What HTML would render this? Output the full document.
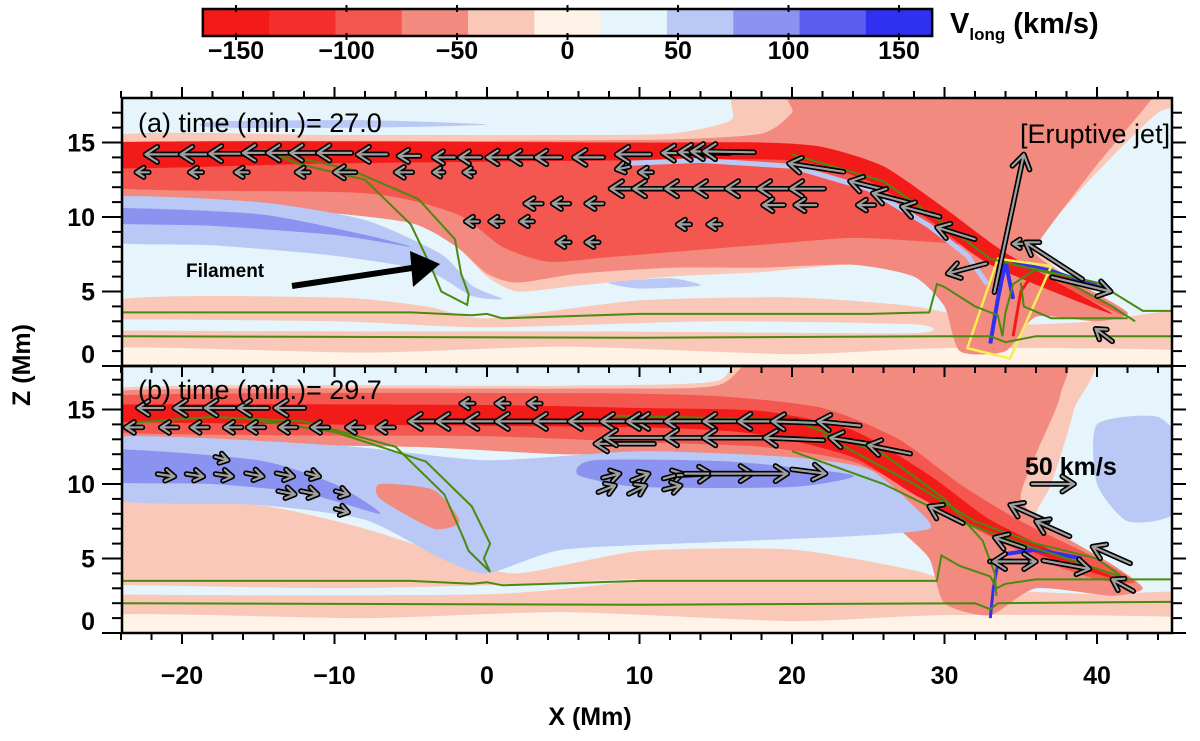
<!DOCTYPE html>
<html><head><meta charset="utf-8"><style>
body{margin:0;background:#fff;}
svg{display:block;font-family:"Liberation Sans",sans-serif;}
</style></head><body>
<svg id="fig" width="1200" height="741" viewBox="0 0 1200 741" xmlns="http://www.w3.org/2000/svg">
<defs>
<clipPath id="clipA"><rect x="122" y="98" width="1050" height="268"/></clipPath>
<clipPath id="clipB"><rect x="122" y="366" width="1050" height="267"/></clipPath>
</defs>
<g id="fieldA" clip-path="url(#clipA)"></g>
<g id="fieldB" clip-path="url(#clipB)"></g>
<g id="overlay"></g>
</svg>
<script>
// ---- data arrays ----
const cbLevels=[-165,-135,-105,-75,-45,-15,15,45,75,105,135,165];
const cbColors=["#f31a1a","#f62d2d","#f4574f","#f28a7f","#f9c8b8","#fef3e6","#e6f5fc","#b9c8f5","#8a94f0","#5a5df0","#3030f0"];
const cbTicks=[-150,-100,-50,0,50,100,150];
const xTicks=[-20,-10,0,10,20,30,40];
const yTicks=[0,5,10,15];
// arrows: head x (Mm), head z (Mm), u (km/s), w (km/s)
const arrAx=[-22.4,-20.1,-18.2,-16,-14.4,-12.9,-11.1,-8.5,-5.8,-3.5,-1.8,0,1.5,3.2,5.7,8.5,11.5,12.6,13.4,14.2,19.8,23.8,25.3,27.2,29.5,
 -23,-19.5,-16.5,-12.5,-10,-6,-3.5,-1.5,8.5,10,
 2.5,4.3,6.5,8.1,9.6,11.7,13.6,15.7,17.8,19.9,18.1,20.2,24.3,12.5,14.5,-1.4,0.2,2.2,4.6,6.5,
 34.5,35.3,40.9,30.2,39.9];
const arrAz=[14.2,14.2,14.25,14.3,14.3,14.3,14.3,14.2,14.1,14.0,14.0,14.0,14.0,14.0,14.0,14.2,14.3,14.35,14.4,14.4,13.6,12.4,11.6,10.7,9.3,
 13,13,13,13,13,13,13,13,13.2,13,
 10.9,10.9,10.9,11.9,11.9,11.9,11.9,11.9,11.9,11.9,10.8,10.8,10.8,9.5,9.5,9.7,9.7,9.7,8.3,8.3,
 8.2,8.3,5.0,6.2,2.5];
const arrAu=[-50,-45,-40,-45,-40,-40,-40,-35,-25,-25,-25,-30,-30,-30,-35,-40,-60,-60,-60,-60,-65,-40,-45,-45,-45,
 -15,-15,-15,-15,-25,-20,-12,-12,-15,-15,
 -20,-20,-20,-35,-40,-40,-40,-40,-40,-40,-25,-25,-20,-15,-15,-15,-15,-15,-15,-15,
 -12,-68,70,-46,-20];
const arrAw=[0,0,0,0,0,0,0,0,0,0,0,0,0,0,0,0,1,1,1,1,10,10,12,12,14,
 0,0,0,0,0,0,0,0,-3,0,
 0,0,0,0,0,0,0,0,0,0,0,0,0,0,0,0,0,0,0,0,
 0,44,-17,-12,15];
const arrBx=[-22.9,-20.5,-18.5,-16.3,-13.9,-1.7,0.6,2.7,
 -23.7,-21.4,-19.4,-17.2,-15.7,-13.6,-11.5,-9.2,-7.2,-5.1,-3.3,-1.4,0.6,3.1,5.4,7.5,9.8,
 9.2,11.7,14.2,16.5,18.7,21.7,7.1,7.7,11.7,14.2,18.2,22.5,25,
 29,34.3,36,33.3,39.7,41,36,33.2,39.5,
 8.7,10.6,12.8,14.7,17.4,19.7,22.2,8.4,10.4,12.7,
 -20.5,-18.6,-16.7,-14.7,-12.7,-11,-17,-12.6,-11.1,-9.1,-9.1];
const arrBz=[15.1,15.1,15.1,15.1,15.1,15.4,15.4,15.4,
 13.8,13.8,13.8,13.8,13.8,13.8,13.8,13.8,13.8,14.2,14.2,14.2,14.2,14.2,14.2,14.2,14.2,
 14.2,14.2,14.2,14.2,14.2,14.2,12.7,13.1,13.1,13.1,13.1,13.1,12.6,
 8.5,8.6,7.5,6.4,5.8,3.6,4.8,4.8,4.3,
 10.7,10.7,10.7,10.7,10.7,10.7,10.7,9.9,9.9,9.9,
 10.5,10.5,10.5,10.5,10.5,10.5,11.6,9.3,9.3,9.3,8.1];
const arrBu=[-30,-35,-35,-35,-35,-15,-15,-15,
 -20,-20,-20,-20,-20,-20,-20,-20,-20,-60,-70,-70,-70,-70,-70,-70,-70,
 -70,-70,-70,-70,-60,-50,-70,-70,-70,-70,-70,-50,-50,
 -40,-45,-40,-35,-45,-25,55,-40,55,
 20,20,22,40,80,90,40,20,20,20,
 20,20,20,20,20,15,15,20,20,15,15];
const arrBw=[0,0,0,0,0,0,0,0,
 0,0,0,0,0,0,0,0,0,0,0,0,0,0,0,0,0,
 0,0,0,0,2,5,0,0,0,0,3,8,10,
 20,20,18,12,20,14,0,0,-10,
 5,8,6,2,0,0,-5,8,10,5,
 -3,-3,-3,-4,-4,-4,-4,-4,-4,-4,-4];

// ---- axes ----
const NS="http://www.w3.org/2000/svg";
function X(x){return 182+(x+20)*15.25;}
function YA(z){return 366-z*14.9;}
function YB(z){return 633-z*14.9;}
function CB(v){return 567.5+v*2.21;}
const K=0.84;
function el(tag,attrs,parent){const e=document.createElementNS(NS,tag);for(const k in attrs)e.setAttribute(k,attrs[k]);parent.appendChild(e);return e;}
function smooth(pts,Y){
  const p=pts.map(q=>[X(q[0]),Y(q[1])]);const n=p.length;let d="M"+p[0][0].toFixed(1)+","+p[0][1].toFixed(1);
  const t=9;
  for(let i=0;i<n;i++){const p0=p[(i-1+n)%n],p1=p[i],p2=p[(i+1)%n],p3=p[(i+2)%n];
    const c1=[p1[0]+(p2[0]-p0[0])/t,p1[1]+(p2[1]-p0[1])/t],c2=[p2[0]-(p3[0]-p1[0])/t,p2[1]-(p3[1]-p1[1])/t];
    d+=`C${c1[0].toFixed(1)},${c1[1].toFixed(1)} ${c2[0].toFixed(1)},${c2[1].toFixed(1)} ${p2[0].toFixed(1)},${p2[1].toFixed(1)}`;}
  return d+"Z";}
function openLine(pts,Y){return "M"+pts.map(q=>X(q[0]).toFixed(1)+","+Y(q[1]).toFixed(1)).join("L");}
const svg=document.getElementById('fig');
const ov=document.getElementById('overlay');

function fill(g,Y,pts,col,name){const e=el('path',{d:smooth(pts,Y),fill:col},g);

}

// Panel A field
const gA=document.getElementById('fieldA');
el('rect',{x:122,y:98,width:1050,height:268,fill:"#e6f5fc"},gA);
fill(gA,YA,[[-25,4.3],[-10,4.6],[-4,4.0],[0,3.2],[10,4.4],[20,4.6],[28,4.0],[34,2.8],[40,3.0],[46,3.6],[46,-1],[-25,-1]],"#f9c8b8","a-low-pink");
fill(gA,YA,[[-25,1.2],[-8,0.9],[5,1.3],[20,0.8],[30,1.2],[46,1],[46,-1],[-25,-1]],"#fef3e6","a-base-cream");
fill(gA,YA,[[-25,3.1],[-10,3.0],[0,2.6],[15,3.0],[28,2.8],[28,2.2],[10,2.3],[-25,2.4]],"#e6f5fc","a-low-blue-streak");
fill(gA,YA,[[-25,15.4],[-10,15.5],[5,15.5],[12,15.6],[16,16.5],[18,19],[46,19],[46,17.5],[44,17],[40,13],[36.5,9],[36,8],[38,6],[42,3.6],[40,3],[36,3.3],[34,1],[31,1],[30,4],[28,6],[24,6.8],[18,6.3],[12,6],[6,5.4],[2,5],[0,6],[-2,8],[-5,9.6],[-12,10.4],[-25,10.8]],"#f9c8b8","a-pale-pink-envelope");
fill(gA,YA,[[-25,14.8],[0,15.1],[12,15.2],[18,15.6],[20,17],[21,19],[44,19],[43.5,17.8],[40,13.5],[36.3,8.5],[36,7.5],[38,6],[42,3.6],[40,3],[36,3.3],[34,1],[31,1],[30,4],[28,6],[24,6.8],[18,6.6],[12,6.6],[6,6.2],[2,5.6],[0,6.2],[-2,8],[-5,9.6],[-12,10.4],[-25,10.8]],"#f28a7f","a-salmon-region");
fill(gA,YA,[[-25,14.6],[0,14.9],[12,14.9],[20,14.6],[26,13],[31,9.6],[34,7.2],[38,5.6],[42,3.3],[40,4.2],[36,6.4],[32,8],[28,8.4],[24,8.6],[20,8.3],[14,7.8],[8,7.3],[4,7],[1,8],[-2,10.2],[-8,11.6],[-25,12]],"#f4574f","a-red-region");
fill(gA,YA,[[-25,15],[10,15],[18,15],[22,14.7],[26,13.4],[30,10.6],[34,7.6],[41,3.5],[33,6.8],[29,9.8],[25,12.4],[20,13.8],[10,13.8],[-10,13.6],[-25,13.3]],"#f31a1a","a-dark-red-core");
fill(gA,YA,[[-25,11.3],[-15,11],[-8,9.8],[-3,7.5],[-1,5.4],[1,4.5],[-1,4.7],[-4,6.4],[-10,7.4],[-18,8.1],[-25,8.4]],"#b9c8f5","a-blue-band");
fill(gA,YA,[[-25,10.6],[-15,10.2],[-8,8.8],[-5,8],[-10,8.8],[-18,9.4],[-25,9.6]],"#8a94f0","a-blue-core");
fill(gA,YA,[[8,5.6],[12,5.9],[14,5.4],[10,5.2]],"#b9c8f5","a-blue-patch");
fill(gA,YA,[[-18,16.4],[-8,16.5],[0,16.2],[-8,16.0],[-18,16.0]],"#b9c8f5","a-top-blue-streak");
el('path',{d:openLine([[9,13.6],[14,13.8],[20,13.4],[25,11.9],[29,9.4],[31.5,7.4],[32.8,5.5]],YA),fill:"none",stroke:"#b9c8f5","stroke-width":5},gA);
el('path',{d:openLine([[33,1.5],[33.5,4.5],[34,7],[34.5,4.5]],YA),fill:"none",stroke:"#3030f0","stroke-width":4},gA);
el('path',{d:openLine([[34.5,2],[35,5],[36,6.5],[40,5.5]],YA),fill:"none",stroke:"#f31a1a","stroke-width":3},gA);
el('path',{d:openLine([[34.5,7],[37,6.4],[40.5,5.2]],YA),fill:"none",stroke:"#3030f0","stroke-width":3},gA);
el('polygon',{points:[[31.5,1.2],[34.3,0.5],[37,6.7],[33.5,7.2]].map(q=>X(q[0])+","+YA(q[1])).join(" "),fill:"none",stroke:"#f5ef55","stroke-width":2.5},gA);

// Panel B field
const gB=document.getElementById('fieldB');
el('rect',{x:122,y:366,width:1050,height:267,fill:"#e6f5fc"},gB);
fill(gB,YB,[[-25,9.2],[-15,8.6],[-8,7],[-2,5],[2,4],[10,5.5],[20,5.6],[28,4.2],[32,3],[40,2.6],[46,2.6],[46,-1],[-25,-1]],"#f9c8b8","b-low-pink");
fill(gB,YB,[[-25,1.2],[-8,1],[5,1.4],[20,0.8],[30,1.2],[46,1],[46,-1],[-25,-1]],"#fef3e6","b-base-cream");
fill(gB,YB,[[-25,3.2],[-10,3.0],[0,3.2],[10,3.6],[0,2.6],[-25,2.6]],"#e6f5fc","b-low-blue-streak");
fill(gB,YB,[[-25,16.4],[5,16.6],[15,16.9],[18,19],[39,19],[38.5,15],[37,10],[36,8],[37,7],[41,4.6],[43,3],[41,2.5],[36,3],[33,1.2],[30,2],[29,5],[27,7],[25,9],[22,11.5],[15,12],[5,12],[-5,12.5],[-25,13]],"#f9c8b8","b-pale-envelope");
fill(gB,YB,[[-25,16.2],[5,16.4],[15,16.6],[19,19],[37,19],[37.6,16],[36,12],[35,9],[37,7],[41,4.6],[43,3],[41,2.5],[36,3],[33,1.2],[30,2],[29,5],[27,7],[25,9],[22,11.5],[15,12],[5,12],[-5,12.5],[-25,13]],"#f28a7f","b-salmon-region");
fill(gB,YB,[[-25,15.9],[5,16.1],[15,15.9],[22,15.1],[27,13],[31,10],[35,7.5],[40,5],[42.5,3.4],[40,3.6],[36,5],[32,7],[28,9.5],[24,11.5],[18,12.5],[10,12.8],[0,13.2],[-25,13.5]],"#f4574f","b-red-region");
fill(gB,YB,[[-25,15.3],[0,15.3],[10,15.1],[18,14.9],[24,13.6],[29,10.6],[33,7.6],[38,5.1],[42,3.4],[38,4.6],[33,6.6],[28,9.3],[24,11.8],[18,13.3],[10,13.8],[-25,14.2]],"#f31a1a","b-dark-red-core");
fill(gB,YB,[[-25,13.1],[-10,12.6],[0,11.6],[10,12.2],[20,11.8],[25,11],[28,8.5],[29,7],[24,6.5],[15,6.1],[5,5.6],[0,4],[-3,5],[-8,7.6],[-15,8.6],[-25,9]],"#b9c8f5","b-blue-region");
fill(gB,YB,[[-25,12.3],[-15,11.6],[-10,10],[-7,8],[-12,9.4],[-18,10],[-25,10.2]],"#8a94f0","b-blue-core-left");
fill(gB,YB,[[7,11.6],[16,11.5],[24,10.6],[20,9.8],[10,9.8],[6,10.6]],"#8a94f0","b-blue-core-mid");
fill(gB,YB,[[-7,10],[-3.5,9.6],[-1.8,7.5],[-3.5,7],[-7,9]],"#f28a7f","b-salmon-patch");
fill(gB,YB,[[40,14],[44,14.5],[46,12],[45,8],[42,7.5],[40,10]],"#b9c8f5","b-right-blue-blob");
el('path',{d:openLine([[33,1],[33.2,3],[33.6,5.2]],YB),fill:"none",stroke:"#3030f0","stroke-width":3},gB);
el('path',{d:openLine([[34,5.3],[36,5.6],[39,5]],YB),fill:"none",stroke:"#3030f0","stroke-width":4},gB);

// green contour lines
function green(g,Y,pts,name){const e=el('path',{d:openLine(pts,Y),fill:"none",stroke:"#4a8a10","stroke-width":2},g);

}
green(gA,YA,[[-25,3.6],[-5,3.6],[-1,3.4],[0,3.5],[1,3.2],[10,3.5],[25,3.5],[29,3.6],[29.5,5.5],[30,5.3],[32,4],[33.5,3.4],[33.8,2],[34,3.6],[34.5,5.5],[36,6.5],[40,5.6],[43,3.7],[46,3.7]],"a-contour-upper");
green(gA,YA,[[-25,2],[10,1.9],[30,2],[33,2],[34,1.6],[36,2],[46,2]],"a-contour-lower");
green(gA,YA,[[-16.5,14.3],[-14.5,14.5],[-12.5,13.6],[-8,12.5],[-5,9.5],[-3.6,6.5],[-3,5],[-1.3,4.1],[-1.2,4.8],[-1.7,6.2],[-2.1,8.5],[-4.5,11.2],[-9,13.2],[-13,14.1],[-14.5,14.4]],"a-filament-contour");
green(gA,YA,[[20,14.2],[26,12.4],[30,9.5],[33,7.2],[37,6.2],[41,4],[42.5,3]],"a-arc-contour");
green(gA,YA,[[35,5.6],[35.2,4],[37,3.2],[42,3.2]],"a-loop-contour");
green(gB,YB,[[-25,3.5],[-5,3.5],[-1,3.3],[0,3.4],[1,3.2],[10,3.5],[25,3.5],[29.5,3.5],[29.8,5.2],[31,4.5],[33,3.8],[33.4,3],[34,3.3],[36,3.6],[40,3.6],[43,3.6],[46,3.6]],"b-contour-upper");
green(gB,YB,[[-25,2],[10,1.9],[32,2],[33,1.6],[33.5,2],[46,2.1]],"b-contour-lower");
green(gB,YB,[[-23.5,14.1],[-18,14.5],[-12,14.2],[-6,12.5],[-2.8,9.3],[-1.6,6.5],[-1.2,5.5],[0.2,4.1],[-0.2,5],[0.2,6],[-1,8.5],[-4,11.5],[-10,13.5],[-16,14.4]],"b-filament-contour");
green(gB,YB,[[8,14.6],[20,14.3],[26,12],[30,9],[32.5,6.2],[33.3,4],[33.4,2.5]],"b-arc-contour-1");
green(gB,YB,[[22,13.3],[28,10],[32,7.5],[36,6],[40,5],[42,3.5]],"b-arc-contour-2");
green(gB,YB,[[20,12.2],[26,10],[31,7.5],[35,6],[38,5],[41.5,3.8]],"b-arc-contour-3");

// arrows
function arrow(g,Y,hx,hz,u,w,name,big){
  const hxp=X(hx),hyp=Y(hz),dx=u*K,dy=-w*K;const tx=hxp-dx,ty=hyp-dy;
  const L=Math.hypot(dx,dy)||1,ux=dx/L,uy=dy/L,hs=big?16:Math.min(14,5+L*0.3);
  const a1=[hxp-hs*(ux*0.85-uy*0.55),hyp-hs*(uy*0.85+ux*0.55)],a2=[hxp-hs*(ux*0.85+uy*0.55),hyp-hs*(uy*0.85-ux*0.55)];
  const d=`M${tx.toFixed(1)},${ty.toFixed(1)}L${hxp.toFixed(1)},${hyp.toFixed(1)}M${a1[0].toFixed(1)},${a1[1].toFixed(1)}L${hxp.toFixed(1)},${hyp.toFixed(1)}L${a2[0].toFixed(1)},${a2[1].toFixed(1)}`;
  const grp=el('g',{},g);
  
  
  el('path',{d:d,fill:"none",stroke:"#000","stroke-width":5.5,"stroke-linecap":"round","stroke-linejoin":"round"},grp);
  el('path',{d:d,fill:"none",stroke:"#a0a0a0","stroke-width":2.2,"stroke-linecap":"round","stroke-linejoin":"round"},grp);
}
const vA=el('g',{"clip-path":"url(#clipA)"},ov);
for(let i=0;i<arrAx.length;i++)arrow(vA,YA,arrAx[i],arrAz[i],arrAu[i],arrAw[i],'velocity-arrow-a',false);
const vB=el('g',{"clip-path":"url(#clipB)"},ov);
for(let i=0;i<arrBx.length;i++)arrow(vB,YB,arrBx[i],arrBz[i],arrBu[i],arrBw[i],'velocity-arrow-b',false);
arrow(ov,YA,35.2,14.2,35,164,'eruptive-jet-arrow',true);
arrow(ov,YB,38.5,10.0,50,0,'reference-arrow-50kms',false);

const fa=el('g',{},ov);


el('line',{x1:292,y1:286,x2:412,y2:268,stroke:"#000","stroke-width":6},fa);
el('polygon',{points:"440,264 410,251 413,287",fill:"#000"},fa);

function txt(x,y,s,size,name,opts){const t=el('text',Object.assign({x:x,y:y,"font-size":size,fill:"#000"},opts||{}),ov);t.textContent=s;

return t;}
txt(186,277,"Filament",19,'filament-label',{"font-weight":"bold"});
txt(1020,143,"[Eruptive jet]",27,'eruptive-jet-label');
txt(1025,475,"50 km/s",25,'reference-arrow-label',{"font-weight":"bold"});
const lA=txt(138,132,"(a)  time  (min.)=  27.0",27,'panel-a-title');lA.setAttribute('xml:space','preserve');
const lB=txt(138,399,"(b)  time  (min.)=  29.7",27,'panel-b-title');lB.setAttribute('xml:space','preserve');

for(let i=0;i<cbColors.length;i++){const r=el('rect',{x:CB(cbLevels[i]),y:9,width:CB(cbLevels[i+1])-CB(cbLevels[i])+0.5,height:27,fill:cbColors[i]},ov);

}
el('rect',{x:CB(-165),y:9,width:CB(165)-CB(-165),height:27,fill:"none",stroke:"#000","stroke-width":2.5},ov);
cbTicks.forEach(v=>{el('line',{x1:CB(v),y1:5,x2:CB(v),y2:12,stroke:"#000","stroke-width":2},ov);el('line',{x1:CB(v),y1:33,x2:CB(v),y2:40,stroke:"#000","stroke-width":2},ov);
 txt(CB(v),59,(v<0?"\u2212":"")+Math.abs(v),25,'colorbar-tick-label',{"text-anchor":"middle","font-weight":"bold"});});
const cl=txt(950,33,"",29,'colorbar-title',{"font-weight":"bold"});
cl.innerHTML='V<tspan font-size="17" dy="7">long</tspan><tspan dy="-7">  (km/s)</tspan>';
cl.setAttribute('xml:space','preserve');

function panel(Y,top,bot,name,showTop,showBot){
  const f=el('rect',{x:122,y:top,width:1050,height:bot-top,fill:"none",stroke:"#000","stroke-width":2.5},ov);
  
  
  for(let x=-24;x<=44;x+=2){const maj=xTicks.includes(x);const l=maj?11:7;
    if(showTop)el('line',{x1:X(x),y1:top,x2:X(x),y2:top-l,stroke:"#000","stroke-width":2},ov);
    if(showBot)el('line',{x1:X(x),y1:bot,x2:X(x),y2:bot+l,stroke:"#000","stroke-width":2},ov);
    if(!showTop)el('line',{x1:X(x),y1:top,x2:X(x),y2:top+l,stroke:"#000","stroke-width":2},ov);}
  for(let z=0;z<=17;z++){const maj=yTicks.includes(z);const l=maj?20:10;
    el('line',{x1:122,y1:Y(z),x2:122-l,y2:Y(z),stroke:"#000","stroke-width":2},ov);
    el('line',{x1:1172,y1:Y(z),x2:1172+(maj?14:10),y2:Y(z),stroke:"#000","stroke-width":2},ov);}
  yTicks.forEach(z=>{txt(95,Y(z)+(z===0?-3:9),String(z),25,'y-tick-label',{"text-anchor":"end","font-weight":"bold"});});
}
panel(YA,98,366,'panel-a-frame',true,false);
panel(YB,366,633,'panel-b-frame',false,true);
xTicks.forEach(x=>{txt(X(x),684,(x<0?"\u2212":"")+Math.abs(x),25,'x-tick-label',{"text-anchor":"middle","font-weight":"bold"});});
txt(590,725,"X (Mm)",25,'x-axis-title',{"text-anchor":"middle","font-weight":"bold"});
txt(30,365,"Z (Mm)",25,'y-axis-title',{"text-anchor":"middle","font-weight":"bold",transform:"rotate(-90 30 365)"});
</script>
</body></html>
